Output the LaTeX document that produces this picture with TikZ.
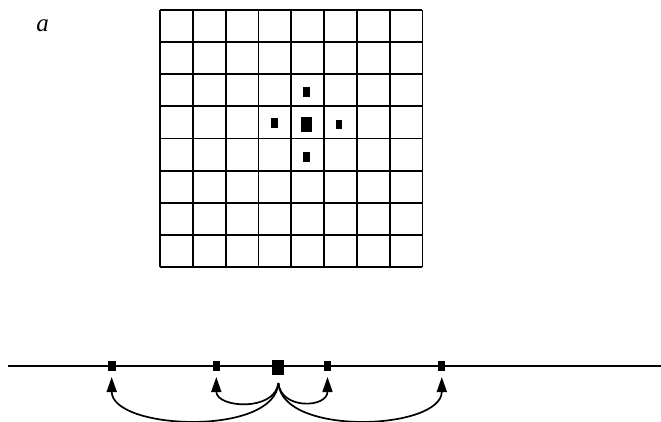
\documentclass[tikz,border=0pt]{standalone}
\usepackage{fontspec}
\setmainfont{Liberation Serif}
\usetikzlibrary{arrows.meta}
\tikzset{
  gridline/.style={line width=1.8pt},
  dotsmall/.style={fill=black, draw=none, minimum width=7pt, minimum height=10pt, inner sep=0pt, rectangle},
  dotbig/.style={fill=black, draw=none, minimum width=11pt, minimum height=15pt, inner sep=0pt, rectangle},
  jump/.style={line width=1.7pt, -{Triangle[length=15pt,width=10pt]}},
}
\begin{document}
\begin{tikzpicture}[x=1pt,y=-1pt]
\useasboundingbox (0,0) rectangle (661,422);
% label
\node[font=\fontsize{25}{25}\selectfont\itshape, inner sep=0pt] (lab) at (42.7,26) {a};
% grid
\foreach \i in {0,...,8} {
  \draw[gridline] ({160+\i*32.8},10) -- ({160+\i*32.8},267);
  \draw[gridline] (160,{10+\i*32.125}) -- (422.4,{10+\i*32.125});
}
% dots in grid
\node[dotsmall] (gt) at (306.7,92.3) {};
\node[dotsmall] (gl) at (274,123.5) {};
\node[dotsmall, minimum width=6pt, minimum height=9pt] (gr) at (339.3,124.3) {};
\node[dotsmall] (gb) at (306.7,156.7) {};
\node[dotbig] (gc) at (306.7,124.3) {};
% bottom line
\coordinate (L) at (8,366);
\coordinate (R) at (661,366);
\draw[line width=1.6pt] (L) -- (R);
\node[dotsmall, minimum width=8pt] (s1) at (111.7,366) {};
\node[dotsmall] (s2) at (216.3,366) {};
\node[dotbig, minimum width=12pt] (s0) at (278.4,367.5) {};
\node[dotsmall] (s3) at (327.5,366) {};
\node[dotsmall] (s4) at (441.8,366) {};
\coordinate (src) at (278.4,383);
\coordinate (t1) at (111.7,377);
\coordinate (t2) at (216.3,377);
\coordinate (t3) at (327.5,377);
\coordinate (t4) at (441.8,377);
\draw[jump] (src) .. controls (275,437) and (111.7,430) .. (t1);
\draw[jump] (src) .. controls (275,412) and (216.3,408) .. (t2);
\draw[jump] (src) .. controls (281,410) and (327.5,408) .. (t3);
\draw[jump] (src) .. controls (282,437) and (441.8,430) .. (t4);
\end{tikzpicture}
\end{document}
